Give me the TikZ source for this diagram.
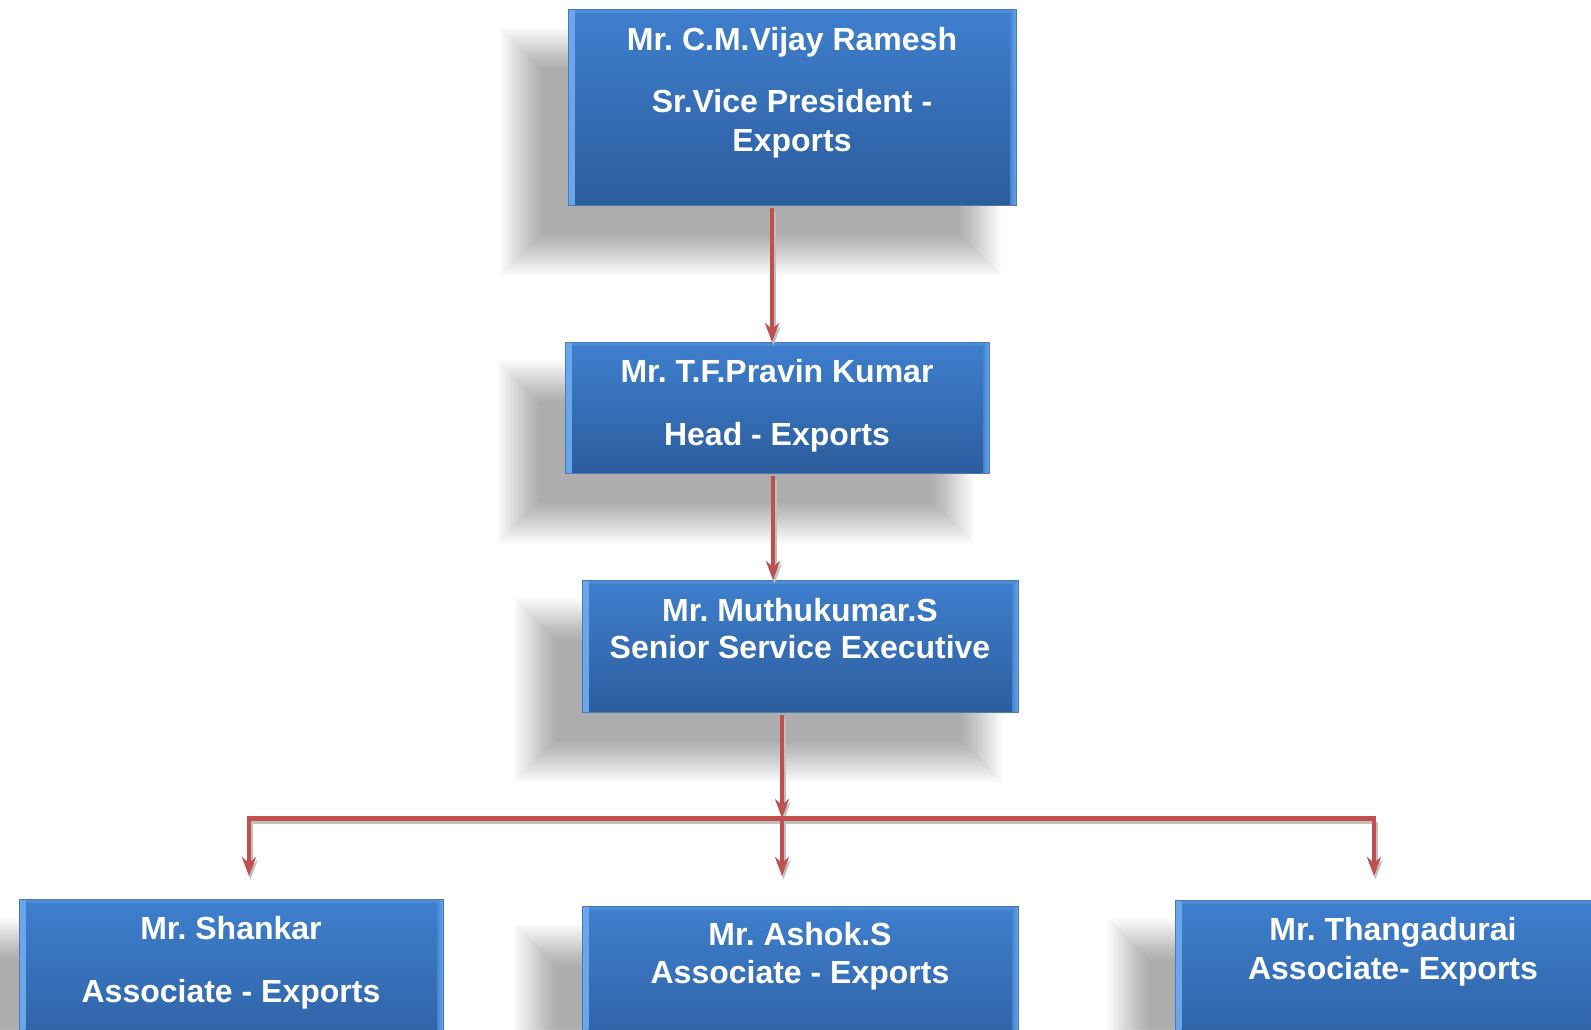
\documentclass[tikz,border=0pt]{standalone}
\usepackage{fontspec}
\setmainfont{Liberation Sans}
\usetikzlibrary{arrows.meta,calc}
\definecolor{boxtop}{HTML}{3F7FCE}
\definecolor{boxbot}{HTML}{2C5D9D}
\definecolor{bevel}{HTML}{69A6EC}
\definecolor{edgec}{HTML}{4C79B4}
\definecolor{arrred}{HTML}{C0504D}
\pgfdeclarelayer{bg}
\pgfsetlayers{bg,main}
\frenchspacing
\tikzset{
  orgbox/.style={rectangle, draw=edgec, line width=1pt, top color=boxtop, bottom color=boxbot,
    inner sep=0pt, anchor=north west,
    path picture={
      \fill[left color=bevel, right color=boxtop!80!bevel] (path picture bounding box.north west) rectangle ([xshift=6pt]path picture bounding box.south west);
      \fill[right color=bevel, left color=boxtop!80!bevel] (path picture bounding box.north east) rectangle ([xshift=-6pt]path picture bounding box.south east);
      \fill[boxtop!70!bevel] ([xshift=6pt]path picture bounding box.north west) rectangle ([xshift=-6pt,yshift=-3pt]path picture bounding box.north east);
    }},
  ln/.style={text=white, anchor=base, inner sep=0pt, font=\fontsize{32}{38}\selectfont\bfseries},
  conn/.style={draw=arrred, line width=4pt},
  arr/.style={conn, -{Stealth[length=19pt,width=14pt,inset=6pt]}},
  shd/.style={draw=black!25, line width=4pt, transform canvas={xshift=1.5pt,yshift=-3.5pt}},
  shdarr/.style={shd, -{Stealth[length=19pt,width=14pt,inset=6pt]}},
  softshadow/.style={fill=black, opacity=0.017},
}
\newcommand{\boxshade}[1]{%
  \foreach \e in {26,24,...,-16}{%
    \fill[softshadow] ($(#1.north west)+(-42-\e,44-\e)$) rectangle ($(#1.south east)+(-42+\e,44+\e)$);
  }}
\begin{document}
\begin{tikzpicture}[x=1pt,y=-1pt]
\useasboundingbox (0,0) rectangle (1591,1029);
\clip (0,0) rectangle (1591,1029);

% boxes
\node[orgbox, minimum width=448pt, minimum height=196pt] (b1) at (568,9) {};
\node[orgbox, minimum width=424pt, minimum height=131pt] (b2) at (565,342) {};
\node[orgbox, minimum width=436pt, minimum height=132pt] (b3) at (582,580) {};
\node[orgbox, minimum width=424pt, minimum height=170pt] (b4) at (19,899) {};
\node[orgbox, minimum width=436pt, minimum height=160pt] (b5) at (582,906) {};
\node[orgbox, minimum width=440pt, minimum height=170pt] (b6) at (1175,900) {};

\begin{pgfonlayer}{bg}
\fill[white] (0,0) rectangle (1591,1029);
\boxshade{b1}\boxshade{b2}\boxshade{b3}\boxshade{b4}\boxshade{b5}\boxshade{b6}
\end{pgfonlayer}

% texts
\node[ln] (b1n)  at (792,50)  {Mr. C.M.Vijay Ramesh};
\node[ln] (b1t)  at (792,112) {Sr.Vice President -};
\node[ln] (b1t2) at (792,151) {Exports};
\node[ln] (b2n)  at (777,382) {Mr. T.F.Pravin Kumar};
\node[ln] (b2t)  at (777,445) {Head - Exports};
\node[ln] (b3n)  at (800,621) {Mr. Muthukumar.S};
\node[ln] (b3t)  at (800,658) {Senior Service Executive};
\node[ln] (b4n)  at (231,939) {Mr. Shankar};
\node[ln] (b4t)  at (231,1002) {Associate - Exports};
\node[ln] (b5n)  at (800,945) {Mr. Ashok.S};
\node[ln] (b5t)  at (800,983) {Associate - Exports};
\node[ln] (b6n)  at (1393,940) {Mr. Thangadurai};
\node[ln] (b6t)  at (1393,979) {Associate- Exports};

% connector coordinates
\coordinate (x1) at (772,0);
\coordinate (x2) at (773,0);
\coordinate (j)  at (782,818);
\coordinate (hl) at (249,818);
\coordinate (hr) at (1374,818);
\coordinate (e4) at (249,876);
\coordinate (e5) at (782,876);
\coordinate (e6) at (1374,876);

% shadows of connectors
\draw[shdarr] ([yshift=-2pt]b1.south -| x1) -- (b2.north -| x1);
\draw[shdarr] ([yshift=-2pt]b2.south -| x2) -- (b3.north -| x2);
\draw[shdarr] ([yshift=-2pt]b3.south -| j) -- (j);
\draw[shd, line width=5pt] (hl) -- (hr);
\draw[shdarr] (hl) -- (e4);
\draw[shdarr] (j) -- (e5);
\draw[shdarr] (hr) -- (e6);

% connectors
\draw[arr] ([yshift=-2pt]b1.south -| x1) -- (b2.north -| x1);
\draw[arr] ([yshift=-2pt]b2.south -| x2) -- (b3.north -| x2);
\draw[arr] ([yshift=-2pt]b3.south -| j) -- (j);
\draw[conn, line width=5pt] ([xshift=-2pt]hl) -- ([xshift=2pt]hr);
\draw[arr] ([yshift=-2pt]hl) -- (e4);
\draw[arr] (j) -- (e5);
\draw[arr] ([yshift=-2pt]hr) -- (e6);
\end{tikzpicture}
\end{document}
